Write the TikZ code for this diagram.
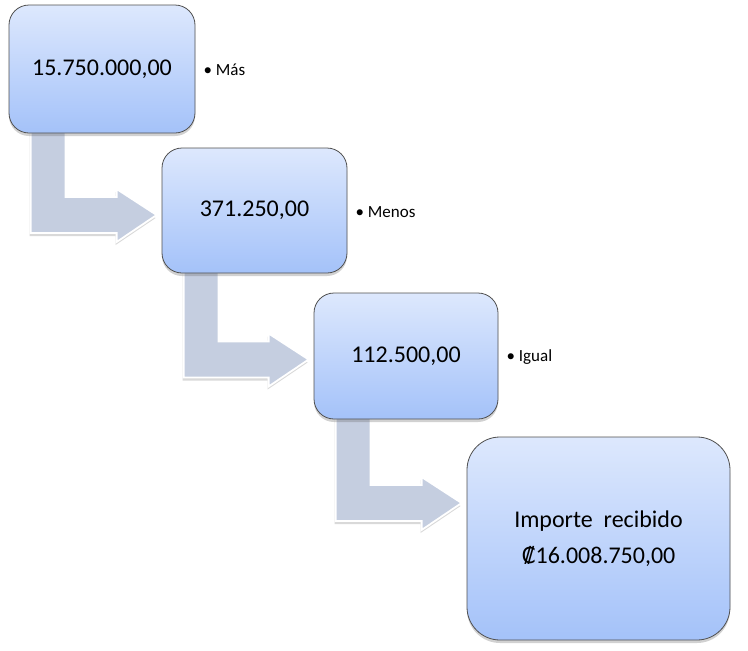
\documentclass[tikz,border=0pt]{standalone}
\usepackage{fontspec}
\setmainfont{Carlito}
\newfontfamily\cursym{DejaVu Sans}
\usetikzlibrary{calc,shadows,backgrounds}
\definecolor{boxtop}{RGB}{221,232,253}
\definecolor{boxbot}{RGB}{164,194,249}
\definecolor{boxline}{RGB}{80,80,80}
\definecolor{arrfill}{RGB}{197,206,224}
\tikzset{
 stepbox/.style={rectangle, rounded corners=20pt, draw=boxline, line width=0.8pt,
   top color=boxtop, bottom color=boxbot, inner sep=0pt,
   font=\fontsize{24}{29}\selectfont,
   drop shadow={shadow xshift=0pt, shadow yshift=-3pt, opacity=0.3, fill=black!60}},
 steplabel/.style={anchor=west, inner sep=0pt, font=\fontsize{17}{20}\selectfont},
 bentarrow/.style={fill=arrfill, draw=white, line width=1.8pt, line join=miter,
   drop shadow={shadow xshift=-1pt, shadow yshift=-3pt, opacity=0.25, fill=black!60}},
}
\newcommand\bentarr[3]{%
  \draw[bentarrow] let \p1=(#1.south west), \p2=(#2.west) in
    ({\x1+22pt},{\y1+4pt}) -- ({\x1+57pt},{\y1+4pt})
    -- ({\x1+57pt},{-#3pt+18pt}) -- ({\x2-45pt},{-#3pt+18pt})
    -- ({\x2-45pt},{-#3pt+26pt}) -- ({\x2-5pt},{-#3pt})
    -- ({\x2-45pt},{-#3pt-27pt}) -- ({\x2-45pt},{-#3pt-18pt})
    -- ({\x1+22pt},{-#3pt-18pt}) -- cycle;}
\begin{document}
\begin{tikzpicture}[x=1pt,y=-1pt]
\useasboundingbox (0,0) rectangle (748,651);
\node[stepbox, minimum width=186pt, minimum height=128pt] (b1) at (102,69) {15.750.000,00};
\node[stepbox, minimum width=185pt, minimum height=125pt] (b2) at (254.5,210.5) {371.250,00};
\node[stepbox, minimum width=184pt, minimum height=126pt] (b3) at (406,356) {112.500,00};
\node[stepbox, rounded corners=33pt, minimum width=263pt, minimum height=203pt,
      align=center, font=\fontsize{24}{36}\selectfont] (b4) at (598.5,538.5)
      {Importe~ recibido\\{\cursym\fontsize{22}{36}\selectfont ₡}16.008.750,00};
\node[steplabel] (l1) at ($(b1.east)+(8,1)$) {• Más};
\node[steplabel] (l2) at ($(b2.east)+(8,2)$) {• Menos};
\node[steplabel] (l3) at ($(b3.east)+(8,1)$) {• Igual};
\begin{scope}[on background layer]
\bentarr{b1}{b2}{215}
\bentarr{b2}{b3}{359.5}
\bentarr{b3}{b4}{503}
\end{scope}
\end{tikzpicture}
\end{document}
